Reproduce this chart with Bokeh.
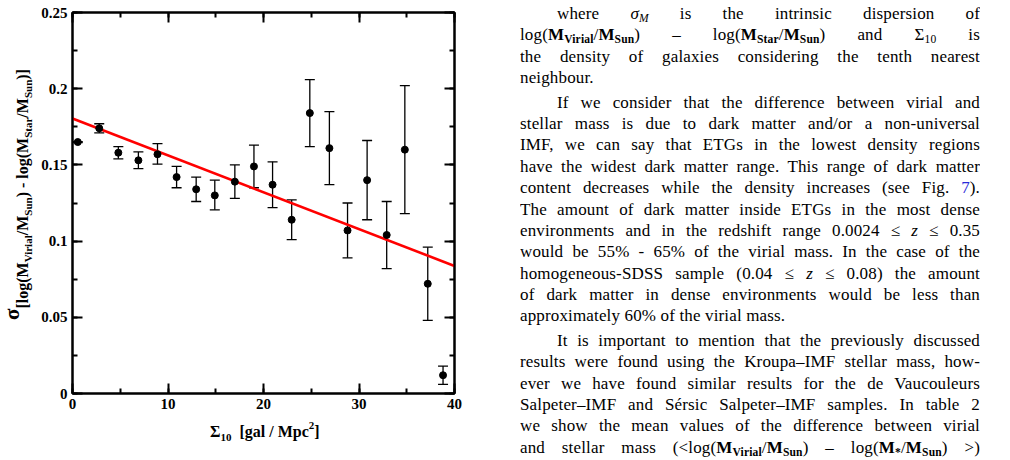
from bokeh.plotting import figure
from bokeh.models import (ColumnDataSource, Whisker, TeeHead, LinearAxis,
                          SingleIntervalTicker, CustomJSTickFormatter,
                          Div, Range1d)
from bokeh.layouts import row, column
from bokeh.embed import file_html
from bokeh.resources import INLINE

# ---------------- data ----------------
sigma10 = [0.55, 2.8, 4.8, 6.9, 8.9, 10.9, 12.95, 14.9, 17.0, 19.0,
           20.95, 22.95, 24.85, 26.9, 28.8, 30.85, 32.9, 34.8, 37.2, 38.8]
disp = [0.165, 0.174, 0.158, 0.153, 0.157, 0.142, 0.134, 0.130, 0.139, 0.149,
        0.137, 0.114, 0.184, 0.161, 0.107, 0.140, 0.104, 0.160, 0.072, 0.012]
disp_low = [0.1647, 0.171, 0.154, 0.1475, 0.1505, 0.135, 0.126, 0.1205, 0.128, 0.135,
            0.122, 0.101, 0.162, 0.137, 0.089, 0.114, 0.082, 0.118, 0.048, 0.006]
disp_high = [0.1653, 0.177, 0.162, 0.1585, 0.164, 0.149, 0.142, 0.140, 0.150, 0.163,
             0.152, 0.127, 0.206, 0.185, 0.125, 0.166, 0.126, 0.202, 0.096, 0.018]
fit_x = [0, 40]
fit_y = [0.1804, 0.0837]

FONT = "Liberation Serif"

# ---------------- geometry ----------------
YT_W = 38          # width of the strip holding the y title
MAIN_W = 462       # main figure width
MAIN_H = 420       # main figure height
XT_H = 460 - MAIN_H

# ---------------- main figure ----------------
p = figure(width=MAIN_W, height=MAIN_H, x_range=Range1d(0, 40), y_range=Range1d(0, 0.25),
           output_backend="svg", toolbar_location=None,
           min_border_left=72 - YT_W, min_border_right=46, min_border_top=12,
           min_border_bottom=MAIN_H - 393,
           background_fill_color="white", border_fill_color="white")
p.grid.visible = False
p.outline_line_color = "black"
p.outline_line_width = 2

xt = SingleIntervalTicker(interval=10, num_minor_ticks=2)
yt = SingleIntervalTicker(interval=0.05, num_minor_ticks=2)
yfmt = CustomJSTickFormatter(code="return String(+tick.toFixed(2));")


def style_axis(ax, show_labels):
    ax.axis_line_width = 2
    ax.axis_line_color = "black"
    ax.major_tick_line_width = 2
    ax.minor_tick_line_width = 2
    ax.major_tick_in = 10
    ax.major_tick_out = 0
    ax.minor_tick_in = 5
    ax.minor_tick_out = 0
    ax.major_label_text_font = FONT
    ax.major_label_text_font_style = "bold"
    ax.major_label_text_color = "black"
    ax.axis_label = None
    if show_labels:
        ax.major_label_text_font_size = "15px"
    else:
        ax.major_label_text_font_size = "1px"
        ax.major_label_text_alpha = 0


p.xaxis.ticker = xt
p.yaxis.ticker = yt
p.yaxis.formatter = yfmt
style_axis(p.xaxis[0], True)
style_axis(p.yaxis[0], True)
p.xaxis.major_label_standoff = 5
p.yaxis.major_label_standoff = 5

top = LinearAxis(ticker=xt)
style_axis(top, False)
p.add_layout(top, "above")
right = LinearAxis(ticker=yt)
style_axis(right, False)
p.add_layout(right, "right")

src = ColumnDataSource(dict(x=sigma10, y=disp, lower=disp_low, upper=disp_high))

p.line(fit_x, fit_y, line_color="#ff0000", line_width=2.6)

wk = Whisker(source=src, base="x", lower="lower", upper="upper",
             line_color="black", line_width=1.3,
             upper_head=TeeHead(size=10, line_color="black", line_width=1.3),
             lower_head=TeeHead(size=10, line_color="black", line_width=1.3))
p.add_layout(wk)
p.scatter("x", "y", source=src, size=7, color="black")

# ---------------- axis titles as HTML (sub/superscripts) ----------------
TF = f"font-family:'{FONT}',serif;font-weight:bold;color:#000;white-space:nowrap;"


def lo(s, px, size):
    return f"<span style='font-size:{size}px;position:relative;top:{px}px'>{s}</span>"


def ssub(s):
    return lo(s, 4, 11)


y_inner = ("<span style='font-size:21px'>σ</span>"
           + lo("[log(M" + ssub("Virial") + "/M" + ssub("Sun") + ") - log(M"
                + ssub("Star") + "/M" + ssub("Sun") + ")]", 9, 16))
y_html = (f"<div style=\"position:relative;width:{YT_W}px;height:460px;overflow:visible\">"
          f"<div style=\"position:absolute;left:2px;top:320px;transform-origin:0 0;"
          f"transform:rotate(-90deg);font-size:21px;line-height:21px;{TF}\">{y_inner}</div></div>")
ydiv = Div(text=y_html, width=YT_W, height=460, margin=0, styles={"overflow": "visible"})

x_inner = ("Σ" + lo("10", 4, 11)
           + "<span style='margin-left:8px'>[gal / Mpc</span>" + lo("2", -8, 11) + "]")
x_html = (f"<div style=\"position:relative;width:{MAIN_W}px;height:{XT_H}px\">"
          f"<div style=\"position:absolute;left:{210 - YT_W}px;top:4px;"
          f"font-size:16px;line-height:16px;{TF}\">{x_inner}</div></div>")
xdiv = Div(text=x_html, width=MAIN_W, height=XT_H, margin=0)

# ---------------- text column ----------------
def b(s):
    return f"<b>{s}</b>"


def sub(s):
    return f"<span style='font-size:0.68em;vertical-align:-0.3em;line-height:0'>{s}</span>"


def M(s):
    return b("M") + sub(b(s))


lines = [
    (f"where <i>σ</i>{sub('<i>M</i>')} is the intrinsic dispersion of", "first"),
    (f"log({M('Virial')}/{M('Sun')}) – log({M('Star')}/{M('Sun')}) and Σ{sub('10')} is", "mid"),
    ("the density of galaxies considering the tenth nearest", "mid"),
    ("neighbour.", "last"),
    ("If we consider that the difference between virial and", "first"),
    ("stellar mass is due to dark matter and/or a non-universal", "mid"),
    ("IMF, we can say that ETGs in the lowest density regions", "mid"),
    ("have the widest dark matter range. This range of dark matter", "mid"),
    ("content decreases while the density increases (see Fig. <span style='color:#2a2ad8'>7</span>).", "mid"),
    ("The amount of dark matter inside ETGs in the most dense", "mid"),
    ("environments and in the redshift range 0.0024 ≤ <i>z</i> ≤ 0.35", "mid"),
    ("would be 55% - 65% of the virial mass. In the case of the", "mid"),
    ("homogeneous-SDSS sample (0.04 ≤ <i>z</i> ≤ 0.08) the amount", "mid"),
    ("of dark matter in dense environments would be less than", "mid"),
    ("approximately 60% of the virial mass.", "last"),
    ("It is important to mention that the previously discussed", "first"),
    ("results were found using the Kroupa–IMF stellar mass, how-", "mid"),
    ("ever we have found similar results for the de Vaucouleurs", "mid"),
    ("Salpeter–IMF and Sérsic Salpeter–IMF samples. In table 2", "mid"),
    ("we show the mean values of the difference between virial", "mid"),
    (f"and stellar mass (&lt;log({M('Virial')}/{M('Sun')}) – log({M('*')}/{M('Sun')}) &gt;)", "mid"),
]

parts = []
for html, kind in lines:
    st = "height:21.4px;white-space:normal;overflow:hidden;"
    if kind != "last":
        st += "text-align:justify;text-align-last:justify;"
    else:
        st += "text-align:left;"
    if kind == "first":
        st += "text-indent:37px;"
    parts.append(f"<div style=\"{st}\">{html}</div>")
    if kind == "last":
        parts.append("<div style='height:3px'></div>")

body = ("<div style=\"font-family:'Liberation Serif',serif;font-size:17px;line-height:21.4px;"
        "letter-spacing:0.15px;color:#000;width:460px;margin-left:20px;padding-top:3px;\">"
        + "".join(parts) + "</div>")

div = Div(text=body, width=510, height=460, margin=0,
          styles={"overflow": "hidden", "background-color": "white"})

layout = row(ydiv, column(p, xdiv, spacing=0), div, spacing=0)

open("out.html", "w").write(file_html(layout, INLINE, title="Fig"))
